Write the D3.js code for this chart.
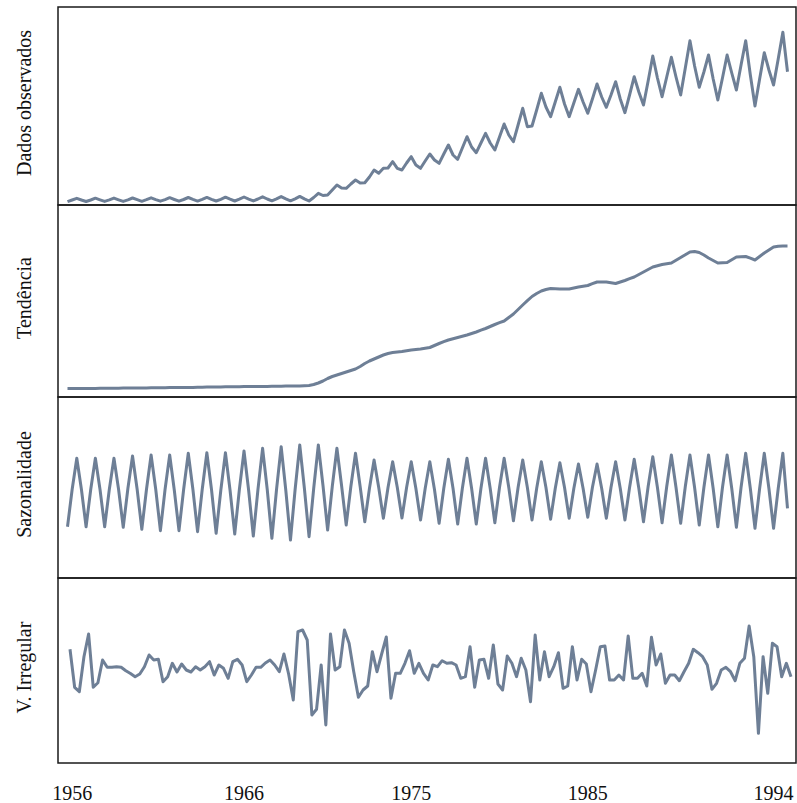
<!DOCTYPE html>
<html>
<head>
<meta charset="utf-8">
<script src="https://cdn.jsdelivr.net/npm/d3@7"></script>
<style>
  body { margin: 0; background: #fff; }
  svg { display: block; }
  .label { font-family: "Liberation Serif", "Times New Roman", serif; font-size: 20px; fill: #111; }
</style>
</head>
<body>
<div id="chart"></div>
<script>
var width = 797;
var height = 803;
const LINE_COLOR = "#6e7f96";

// quarterly series, 1956 Q1 .. 1994 Q4 (one row per year)
var observed = [
  3.3, 5.0, 6.7, 5.0,
  3.5, 5.0, 6.8, 5.2,
  3.6, 5.1, 6.9, 5.2,
  3.6, 5.2, 7.0, 5.3,
  3.7, 5.3, 7.2, 5.4,
  3.8, 5.4, 7.3, 5.5,
  3.8, 5.5, 7.5, 5.6,
  3.9, 5.6, 7.6, 5.7,
  4.0, 5.7, 7.8, 5.8,
  4.0, 5.8, 8.0, 5.9,
  4.1, 6.0, 8.2, 6.0,
  4.2, 6.1, 8.4, 6.1,
  4.2, 6.2, 8.6, 6.2,
  4.0, 7.5, 11.7, 9.5,
  10.0, 15.0, 20.0, 17.0,
  16.7, 21.0, 25.0, 22.0,
  22.3, 28.0, 35.0, 31.7,
  36.7, 37.0, 43.3, 36.7,
  35.0, 42.0, 48.3, 40.0,
  36.7, 44.0, 51.0, 45.0,
  41.7, 51.0, 60.0, 50.0,
  45.7, 57.0, 68.3, 58.0,
  52.3, 62.0, 71.7, 62.0,
  55.0, 68.0, 81.0, 70.0,
  63.3, 80.0, 96.7, 78.3,
  79.0, 95.0, 111.7, 98.0,
  88.3, 103.0, 117.7, 101.0,
  88.3, 102.0, 115.7, 103.0,
  91.7, 106.0, 121.0, 108.0,
  97.7, 110.0, 123.3, 106.0,
  92.3, 110.0, 128.3, 113.0,
  100.0, 124.0, 149.0, 127.0,
  108.3, 128.0, 147.7, 128.0,
  110.0, 137.0, 164.3, 139.0,
  117.7, 133.0, 150.0, 126.0,
  105.0, 127.0, 150.0, 132.0,
  115.0, 140.0, 164.3, 130.0,
  99.0, 126.0, 152.3, 135.0,
  120.0, 146.0, 172.7, 133.3
];

var trend = [
  8.5, 8.5, 8.5, 8.5, 8.6, 8.6, 8.6, 8.7, 8.7, 8.7,
  8.8, 8.8, 8.9, 8.9, 9.0, 9.0, 9.1, 9.1, 9.2, 9.2,
  9.3, 9.3, 9.4, 9.4, 9.5, 9.5, 9.6, 9.6, 9.7, 9.8,
  9.9, 10.0, 10.0, 10.1, 10.2, 10.2, 10.3, 10.3, 10.4, 10.4,
  10.5, 10.5, 10.6, 10.6, 10.7, 10.7, 10.8, 10.9, 11.0, 11.0,
  11.0, 11.2, 11.5, 12.5, 14.0, 16.0, 18.5, 20.5, 22.0, 23.5,
  25.0, 26.5, 28.0, 30.5, 33.5, 36.0, 38.0, 40.0, 42.0, 43.5,
  44.5, 45.0, 45.5, 46.3, 47.0, 47.5, 48.0, 48.7, 49.5, 51.5,
  53.5, 55.3, 57.0, 58.3, 59.5, 60.8, 62.0, 63.5, 65.0, 66.8,
  68.5, 70.5, 72.5, 74.3, 76.0, 79.5, 83.0, 87.5, 92.0, 96.3,
  100.5, 103.5, 106.0, 107.5, 108.5, 108.3, 108.0, 108.0, 108.0, 109.0,
  110.0, 110.8, 111.5, 113.3, 115.0, 115.0, 115.0, 114.3, 113.5, 115.0,
  116.5, 118.3, 120.0, 122.5, 125.0, 127.5, 130.0, 131.3, 132.5, 133.3,
  134.0, 136.8, 139.5, 142.3, 145.0, 145.5, 144.5, 142.0, 139.0, 136.5,
  134.0, 134.2, 134.5, 137.3, 140.0, 140.3, 140.5, 138.8, 137.0, 140.5,
  144.0, 147.0, 150.0, 150.8, 151.0, 151.0
];

var seasonal = [
  60.8, 98, 129.2, 98,
  60.8, 98, 129.2, 98,
  60.8, 98, 129.2, 98,
  60.2, 99, 131.5, 98,
  58.2, 98, 132.5, 98,
  56.8, 98, 132.5, 97,
  56.8, 98, 134.2, 98,
  55.8, 98, 134.8, 98,
  54.2, 97, 134.8, 97,
  53.5, 98, 136.5, 97,
  51.5, 98, 139.2, 98,
  49.2, 98, 140.8, 97,
  47.5, 98, 142.5, 99,
  50.8, 99, 142.5, 102,
  57.5, 101, 139.2, 102,
  62.5, 101, 134.2, 101,
  65.8, 99, 127.5, 100,
  69.2, 100, 125.8, 100,
  69.5, 100, 125.8, 99,
  67.5, 99, 125.8, 98,
  64.2, 99, 128.2, 99,
  63.5, 99, 129.2, 99,
  63.5, 99, 129.2, 99,
  64.8, 100, 129.2, 100,
  66.8, 100, 127.5, 100,
  67.5, 99, 125.8, 100,
  68.2, 99, 124.8, 100,
  69.2, 99, 123.5, 99,
  70.2, 100, 123.5, 99,
  69.2, 100, 125.8, 99,
  67.5, 100, 128.2, 99,
  65.8, 101, 130.8, 100,
  64.8, 101, 132.5, 100,
  64.2, 101, 132.5, 100,
  62.5, 100, 132.5, 99,
  60.8, 100, 132.5, 99,
  60.2, 100, 134.2, 99,
  59.2, 99, 134.2, 99,
  59.2, 99, 134.2, 79.2
];

var irregular = [
  16.7, -21.3, -25.7, 9.3, 32, -21.3, -16.7, 6, -1.3, -1.3,
  -0.7, -1.3, -4.7, -7.5, -10.7, -8, -0.7, 11, 6, 6.7,
  -15.7, -10.7, 2.7, -6, 2, -4, -6, -0.7, -4, -0.7,
  4.3, -9, 1, -2.3, -12.3, 4.3, 6.7, 1, -15.7, -9,
  -1.3, -1.3, 3, 6, 1, -5.7, 12, -8, -34, 34.3,
  36, 26, -49, -43.3, 1, -59, 32, -4, -0.7, 36,
  22.7, -5.7, -31.3, -24, -20, 14.3, -5.7, 12, 29, -32.3,
  -7.3, -7.3, 2.7, 15.3, -7.3, 2.7, -7.3, -14, 1, -0.7,
  5.3, 2.7, 3.3, 1, -12.3, -10.7, 19.3, -21.3, 6, 6.7,
  -12.3, 21, -18, -24, 10, 2.7, -10.7, 7.7, -4, -35.7,
  31, -14, 14.3, -10.7, -0.7, 13.3, -22.3, -20, 19.3, -14,
  6.7, 2, -25.7, -4, 19.3, 20, -14, -14, -9, -14,
  30, -12.3, -12.3, -7.3, -20, 28.7, 1, 12, -17.3, -9,
  -9, -14.7, -5.7, 2.7, 16.7, 13.3, 9.3, 1, -23.3, -17.3,
  -4, -1.3, -5.7, -14.7, 2.7, 7.7, 40, 9.3, -67.3, 9.3,
  -27.3, 22.7, 19.3, -10.7, 2.7, -10.7
];

var panelNames = ["Dados observados", "Tendência", "Sazonalidade", "V. Irregular"];
var panelDomains = [[0, 198], [0, 192], [9.5, 190.5], [-97, 88]];

// x axis labels and the quarter index they sit under
var tickLabels = ["1956", "1966", "1975", "1985", "1994"];
var tickIndex = [1, 38, 74, 112, 152];

var series = [observed, trend, seasonal, irregular];

// panel layout
var left = 58, right = 796;
var panelEdges = [7, 205, 397, 578, 763];

var svg = d3
  .select("#chart")
  .append("svg")
  .attr("width", width)
  .attr("height", height);

// x scale on quarter index
var x = d3.scaleLinear()
  .domain([0, observed.length - 1])
  .range([67.5, 787.5]);
// the irregular panel sits a few pixels to the right in the original
var xIrr = d3.scaleLinear()
  .domain([0, irregular.length - 1])
  .range([70, 791]);

series.forEach(function(data, p) {
  var top = panelEdges[p], bottom = panelEdges[p + 1];
  var y = d3.scaleLinear()
    .domain(panelDomains[p])
    .range([bottom, top]);
  var xs = (p == 3) ? xIrr : x;

  var line = d3.line()
    .x(function(d, i) { return xs(i); })
    .y(function(d) { return y(d); });

  svg.append("path")
    .datum(data)
    .attr("fill", "none")
    .attr("stroke", LINE_COLOR)
    .attr("stroke-width", 3)
    .attr("stroke-linejoin", "round")
    .attr("d", line);

  // frame
  svg.append("rect")
    .attr("x", left)
    .attr("y", top)
    .attr("width", right - left)
    .attr("height", bottom - top)
    .attr("fill", "none")
    .attr("stroke", "#1a1a1a")
    .attr("stroke-width", 1.5);

  // y label
  var cy = (top + bottom) / 2 - 3;
  svg.append("text")
    .attr("class", "label")
    .attr("text-anchor", "middle")
    .attr("transform", "translate(31," + cy + ") rotate(-90)")
    .text(panelNames[p]);
});

// x tick labels
svg.append("g")
  .selectAll("text")
  .data(tickLabels)
  .enter().append("text")
    .attr("class", "label")
    .attr("text-anchor", "middle")
    .attr("x", function(d, i) { return x(tickIndex[i]); })
    .attr("y", 800)
    .text(function(d) { return d; });
</script>
</body>
</html>
